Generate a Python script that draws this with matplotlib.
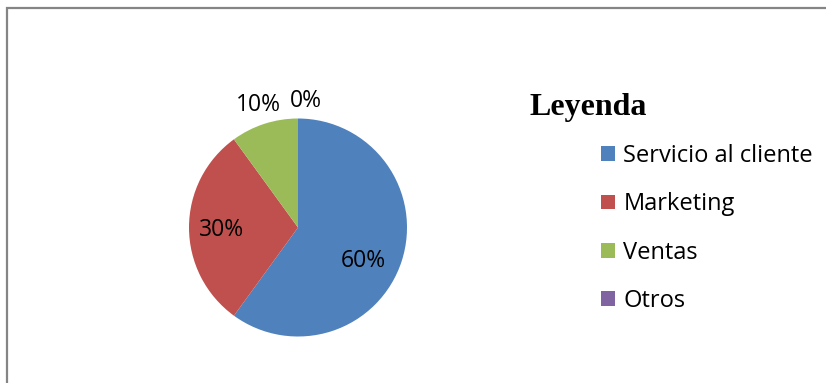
import matplotlib.pyplot as plt
from matplotlib.patches import Rectangle
import numpy as np

# Data
categories = ["Servicio al cliente", "Marketing", "Ventas", "Otros"]
shares = [60, 30, 10, 0]
colors = ["#4F81BD", "#C0504D", "#9BBB59", "#8064A2"]

W, H = 826, 383
fig = plt.figure(figsize=(W / 100, H / 100), dpi=100)
fig.patch.set_facecolor("white")

# chart frame (runs off the right and bottom edge)
fig.patches.append(Rectangle((6.5 / W, -0.1), 1.2, 1 - 8.5 / H + 0.1,
                             transform=fig.transFigure, fill=False,
                             edgecolor="#858585", linewidth=1.6))

# pie axes, centre (298, 227.5) px, radius 109 px
cx, cy, r = 298, 227.5, 109
ax = fig.add_axes([(cx - r) / W, (H - cy - r) / H, 2 * r / W, 2 * r / H])
wedges, _ = ax.pie(shares, colors=colors, startangle=90, counterclock=False,
                   radius=1, wedgeprops=dict(linewidth=0))
ax.set_xlim(-1, 1)
ax.set_ylim(-1, 1)
ax.set_aspect("equal")
ax.axis("off")

# percentage labels: large slices inside, small ones outside
nudge = {0: (-0.03, -0.10), 1: (-0.04, -0.02), 3: (0.07, -0.02)}
for i, (w, v) in enumerate(zip(wedges, shares)):
    mid = np.deg2rad((w.theta1 + w.theta2) / 2)
    d = 0.66 if v >= 20 else 1.18
    x, y = d * np.cos(mid), d * np.sin(mid)
    dx, dy = nudge.get(i, (0, 0))
    ax.text(x + dx, y + dy, f"{v}%", ha="center", va="center",
            fontsize=16.5, family="Open Sans", color="black", clip_on=False)

# legend
fig.text(530 / W, 1 - 107 / H, "Leyenda", ha="left", va="center",
         fontsize=23, fontweight="bold", family="Liberation Serif")
handles = [Rectangle((0, 0), 1, 1, facecolor=c, edgecolor="none") for c in colors]
leg = fig.legend(handles, categories, loc="upper left",
                 bbox_to_anchor=(601 / W, 1 - 144 / H), frameon=False,
                 prop={"family": "Open Sans", "size": 17},
                 handlelength=0.6, handleheight=0.6, handletextpad=0.35,
                 labelspacing=1.03, borderpad=0, borderaxespad=0)

fig.savefig("out.png", dpi=100, facecolor="white")
